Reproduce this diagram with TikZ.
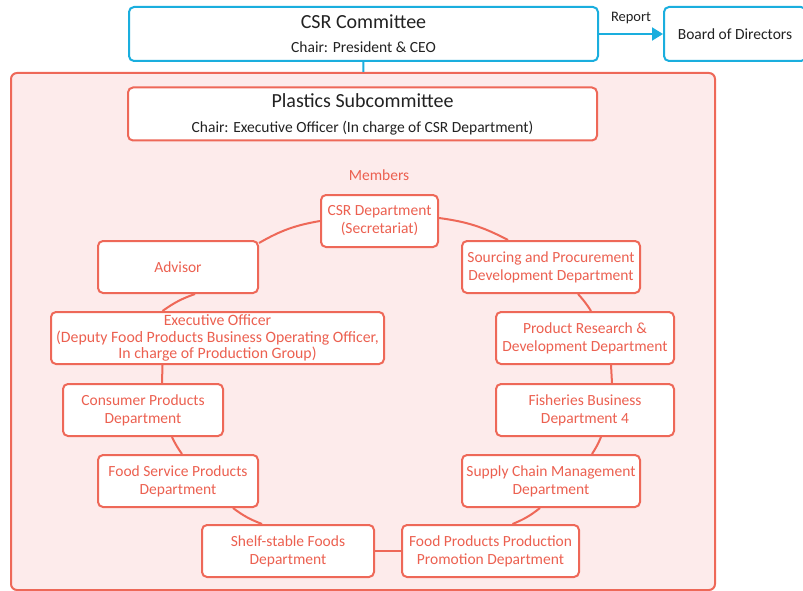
\documentclass[tikz,border=0pt]{standalone}
\usepackage{fontspec}
\setmainfont{Carlito}
\usetikzlibrary{arrows.meta}
\definecolor{csrblue}{RGB}{26,174,222}
\definecolor{plred}{RGB}{238,104,88}
\definecolor{plpink}{RGB}{253,235,235}
\definecolor{pltext}{RGB}{236,96,80}
\definecolor{titletext}{RGB}{34,34,34}
\begin{document}
\begin{tikzpicture}[x=1pt,y=1pt]
		\tikzstyle{every node}+=[inner sep=0pt, align=center]
		\tikzstyle{topbox}=[draw=csrblue, line width=2pt, rounded corners=5pt, fill=white, text=titletext]
		\tikzstyle{subbox}=[draw=plred, line width=2pt, rounded corners=5pt, fill=white]
		\tikzstyle{member}=[subbox, text=pltext, minimum height=52pt, font=\fontsize{15.5}{18}\selectfont]
		\tikzstyle{link}=[plred, line width=2pt]
		\useasboundingbox (0,0) rectangle (803,-591);
		\node [draw=plred, fill=plpink, line width=2pt, rounded corners=6pt, minimum width=704pt, minimum height=517pt] (area) at (363,-331.5) {};
		\node [topbox, minimum width=469pt, minimum height=54pt, font=\fontsize{20}{24}\selectfont] (csrc) at (363.5,-34) {CSR Committee\\{\fontsize{15.5}{18}\selectfont Chair: President \& CEO}};
		\node [topbox, minimum width=142pt, minimum height=54pt, font=\fontsize{15.5}{18}\selectfont] (board) at (735,-34) {Board of Directors};
		\node [subbox, text=titletext, minimum width=469pt, minimum height=53pt, font=\fontsize{20}{25}\selectfont] (plsub) at (362.5,-114) {Plastics Subcommittee\\{\fontsize{15.5}{18}\selectfont Chair: Executive Officer (In charge of CSR Department)}};
		\node [text=pltext, font=\fontsize{15.5}{18}\selectfont] (members) at (379,-175) {Members};
		\node [member, minimum width=117pt] (csrd) at (379.5,-221) {CSR Department\\(Secretariat)};
		\node [member, minimum width=160pt] (adv) at (178,-267) {Advisor};
		\node [member, minimum width=178pt] (src) at (551,-267) {Sourcing and Procurement\\Development Department};
		\node [member, minimum width=333pt, font=\fontsize{15.8}{16.5}\selectfont] (exec) at (217.5,-338) {Executive Officer\\(Deputy Food Products Business Operating Officer,\\In charge of Production Group)};
		\node [member, minimum width=178pt] (prd) at (585,-338) {Product Research \&\\Development Department};
		\node [member, minimum width=160pt] (cons) at (143,-410) {Consumer Products\\Department};
		\node [member, minimum width=178pt] (fish) at (585,-410) {Fisheries Business\\Department 4};
		\node [member, minimum width=160pt] (fsvc) at (178,-481) {Food Service Products\\Department};
		\node [member, minimum width=178pt] (supc) at (551,-481) {Supply Chain Management\\Department};
		\node [member, minimum width=172pt] (shelf) at (288,-551) {Shelf-stable Foods\\Department};
		\node [member, minimum width=177pt] (fpp) at (490.5,-551) {Food Products Production\\Promotion Department};
		\draw [csrblue, line width=2pt] (csrc) -- (area);
		\draw [csrblue, line width=2pt, -{Triangle[length=11pt,width=13pt]}] (csrc) -- (board) node [midway, above=9pt, text=titletext, font=\fontsize{14.5}{18}\selectfont] {Report};
		\draw [link] ([yshift=-3pt]adv.north east) to [bend left=10] (csrd.west);
		\draw [link] ([yshift=3pt]csrd.east) to [bend left=10] ([xshift=-43pt]src.north);
		\draw [link] ([xshift=27pt]src.south) to [bend left=5] ([xshift=6pt]prd.north);
		\draw [link] ([xshift=26pt]prd.south) -- ([xshift=27pt]fish.north);
		\draw [link] ([xshift=16pt]fish.south) to [bend left=5] ([xshift=41pt]supc.north);
		\draw [link] ([xshift=-11pt]supc.south) to [bend left=8] ([xshift=22pt]fpp.north);
		\draw [link] (fpp.west) -- (shelf.east);
		\draw [link] ([xshift=-26pt]shelf.north) to [bend left=8] ([xshift=55pt]fsvc.south);
		\draw [link] ([xshift=4pt]fsvc.north) to [bend left=5] ([xshift=29pt]cons.south);
		\draw [link] ([xshift=19pt]cons.north) -- ([xshift=-55pt]exec.south);
		\draw [link] ([xshift=-55pt]exec.north) to [bend left=8] ([xshift=17pt]adv.south);
\end{tikzpicture}
\end{document}
